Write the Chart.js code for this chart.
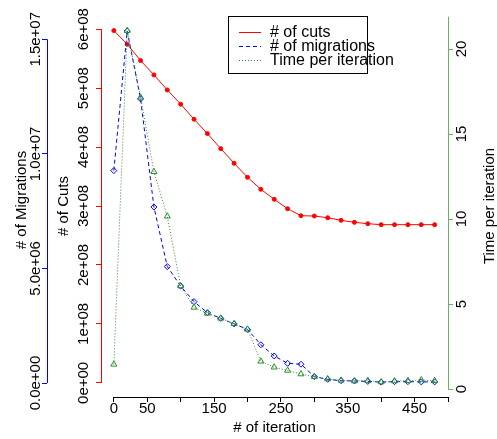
<!DOCTYPE html>
<html>
<head>
<meta charset="utf-8">
<script src="https://cdn.jsdelivr.net/npm/chart.js@4/dist/chart.umd.min.js"></script>
<style>
  html, body { margin: 0; padding: 0; background: #fff; }
</style>
</head>
<body>
<canvas id="chart" width="497" height="439"></canvas>
<script>
const FONT = "'Liberation Sans', Arial, Helvetica, sans-serif";

// data
const iterations = [0, 20, 40, 60, 80, 100, 120, 140, 160, 180, 200, 220, 240, 260, 280, 300, 320, 340, 360, 380, 400, 420, 440, 460, 480];
const cuts = [5.976e8, 5.745e8, 5.467e8, 5.224e8, 4.969e8, 4.727e8, 4.472e8, 4.228e8, 3.973e8, 3.725e8, 3.487e8, 3.283e8, 3.114e8, 2.954e8, 2.835e8, 2.830e8, 2.801e8, 2.757e8, 2.723e8, 2.700e8, 2.683e8, 2.683e8, 2.683e8, 2.683e8, 2.683e8];
const migrations = [9.27e6, 15.36e6, 12.40e6, 7.68e6, 5.08e6, 4.23e6, 3.55e6, 3.07e6, 2.82e6, 2.58e6, 2.34e6, 1.67e6, 1.18e6, 0.86e6, 0.82e6, 0.28e6, 0.16e6, 0.10e6, 0.09e6, 0.07e6, 0.04e6, 0.06e6, 0.06e6, 0.05e6, 0.05e6];
const timePerIter = [1.45, 21.08, 17.16, 12.78, 10.16, 6.06, 4.80, 4.45, 4.16, 3.84, 3.51, 1.63, 1.28, 1.09, 0.88, 0.72, 0.59, 0.51, 0.47, 0.49, 0.41, 0.47, 0.49, 0.53, 0.49];

// ticks
const xTicks = [0, 50, 100, 150, 200, 250, 300, 350, 400, 450, 500];
const xTickLabels = ["0", "50", "", "150", "", "250", "", "350", "", "450", ""];
const cutTicks = [0, 1e8, 2e8, 3e8, 4e8, 5e8, 6e8];
const migTicks = [0, 5e6, 1e7, 1.5e7];
const timeTicks = [0, 5, 10, 15, 20];

const RED = "#ff0000", BLUE = "#0000ff", GREEN = "#2a8f2a", GREEN_AXIS = "#66b366";
const TICK_PX = 15, TITLE_PX = 15, LEGEND_PX = 16;

const pts = (ys) => iterations.map((x, i) => ({ x, y: ys[i] }));

function sci(v, digits) {
  const [m, e] = v.toExponential(digits).split("e");
  const n = parseInt(e, 10);
  return m + "e" + (n < 0 ? "-" : "+") + String(Math.abs(n)).padStart(2, "0");
}

const align = (p) => Math.round(p - 0.5) + 0.5;

function rotText(ctx, txt, x, y, size) {
  ctx.save();
  ctx.translate(x, y);
  ctx.rotate(-Math.PI / 2);
  ctx.font = size + "px " + FONT;
  ctx.fillStyle = "#000";
  ctx.textAlign = "center";
  ctx.textBaseline = "middle";
  ctx.fillText(txt, 0, 0);
  ctx.restore();
}

// R-style axes: line only between end ticks, labels rotated, titles, legend
const rStyle = {
  id: "rStyle",
  afterDraw(chart) {
    const ctx = chart.ctx, s = chart.scales, ca = chart.chartArea;
    const midY = (ca.top + ca.bottom) / 2;

    const vLine = (x, y0, y1, color) => {
      ctx.save();
      ctx.strokeStyle = color; ctx.lineWidth = 1;
      ctx.beginPath(); ctx.moveTo(align(x), y0); ctx.lineTo(align(x), y1); ctx.stroke();
      ctx.restore();
    };
    vLine(s.yM.right, s.yM.getPixelForValue(0), s.yM.getPixelForValue(1.5e7), BLUE);
    vLine(s.yC.right, s.yC.getPixelForValue(0), s.yC.getPixelForValue(6e8), RED);
    vLine(s.yT.left, s.yT.getPixelForValue(0), s.yT.getPixelForValue(21.9), GREEN_AXIS);

    ctx.save();
    ctx.strokeStyle = "#000"; ctx.lineWidth = 1;
    ctx.beginPath();
    ctx.moveTo(s.x.getPixelForValue(0), align(s.x.top));
    ctx.lineTo(s.x.getPixelForValue(500), align(s.x.top));
    ctx.stroke();
    ctx.restore();

    migTicks.forEach(v => rotText(ctx, sci(v, 1), s.yM.right - 11, s.yM.getPixelForValue(v), TICK_PX));
    cutTicks.forEach(v => rotText(ctx, sci(v, 0), s.yC.right - 17, s.yC.getPixelForValue(v), TICK_PX));
    timeTicks.forEach(v => rotText(ctx, String(v), s.yT.left + 14, s.yT.getPixelForValue(v), TICK_PX));

    rotText(ctx, "# of Migrations", 22, midY - 6, TITLE_PX);
    rotText(ctx, "# of Cuts", 64, midY, TITLE_PX);
    rotText(ctx, "Time per iteration", 490, midY, TITLE_PX);

    ctx.save();
    ctx.font = TITLE_PX + "px " + FONT;
    ctx.fillStyle = "#000";
    ctx.textAlign = "center";
    ctx.textBaseline = "middle";
    ctx.fillText("# of iteration", (ca.left + ca.right) / 2, 428);
    ctx.restore();

    // legend
    const lx = 228.5, ly = 16.5, lw = 139, lh = 57;
    ctx.save();
    ctx.fillStyle = "#fff";
    ctx.fillRect(lx, ly, lw, lh);
    ctx.strokeStyle = "#000"; ctx.lineWidth = 1;
    ctx.strokeRect(lx, ly, lw, lh);
    chart.data.datasets.forEach((ds, i) => {
      const y = 32.5 + i * 14;
      ctx.strokeStyle = ds.borderColor;
      ctx.setLineDash(ds.borderDash || []);
      ctx.beginPath(); ctx.moveTo(239, y); ctx.lineTo(261, y); ctx.stroke();
      ctx.setLineDash([]);
      ctx.font = LEGEND_PX + "px " + FONT;
      ctx.fillStyle = "#000";
      ctx.textAlign = "left";
      ctx.textBaseline = "middle";
      ctx.fillText(ds.label, 270, y);
    });
    ctx.restore();
  }
};

const yBase = (ticks, width, color) => ({
  afterBuildTicks: (sc) => { sc.ticks = ticks.map(v => ({ value: v })); },
  afterFit: (sc) => { sc.width = width; },
  border: { display: false },
  grid: { drawOnChartArea: false, tickLength: 5, tickColor: color, color: color },
  ticks: { display: false }
});

new Chart(document.getElementById("chart"), {
  type: "line",
  data: {
    datasets: [
      {
        label: "# of cuts", data: pts(cuts), yAxisID: "yC", order: 3,
        borderColor: RED, borderWidth: 1, pointStyle: "circle", pointRadius: 2,
        pointBackgroundColor: RED, pointBorderColor: RED, tension: 0
      },
      {
        label: "# of migrations", data: pts(migrations), yAxisID: "yM", order: 2,
        borderColor: BLUE, borderWidth: 1, borderDash: [4, 3], pointStyle: "rectRot",
        pointRadius: 3, pointBorderWidth: 1, pointBackgroundColor: "rgba(0,0,0,0)",
        pointBorderColor: BLUE, tension: 0
      },
      {
        label: "Time per iteration", data: pts(timePerIter), yAxisID: "yT", order: 1,
        borderColor: GREEN, borderWidth: 1, borderDash: [1, 2], pointStyle: "triangle",
        pointRadius: 3.5, pointBorderWidth: 1, pointBackgroundColor: "rgba(0,0,0,0)",
        pointBorderColor: GREEN, tension: 0
      }
    ]
  },
  options: {
    responsive: false,
    animation: false,
    devicePixelRatio: 1,
    layout: { padding: { top: 15, left: 0, right: 0, bottom: 0 } },
    plugins: { legend: { display: false }, tooltip: { enabled: false } },
    scales: {
      x: {
        type: "linear", min: -19.2, max: 500,
        afterBuildTicks: (sc) => { sc.ticks = xTicks.map(v => ({ value: v })); },
        afterFit: (sc) => { sc.height = 42; },
        border: { display: false },
        grid: { drawOnChartArea: false, tickLength: 5, color: "#000", tickColor: "#000" },
        ticks: {
          color: "#000", font: { size: TICK_PX, family: FONT }, padding: -2,
          maxRotation: 0, autoSkip: false,
          callback: (v) => xTickLabels[xTicks.indexOf(v)] ?? ""
        }
      },
      yC: Object.assign({ position: "left", weight: 0, min: -0.24e8, max: 6.24e8 }, yBase(cutTicks, 54, RED)),
      yM: Object.assign({ position: "left", weight: 1, min: -0.61e6, max: 16.06e6 }, yBase(migTicks, 47, BLUE)),
      yT: Object.assign({ position: "right", weight: 0, min: -0.47, max: 22.0 }, yBase(timeTicks, 49, GREEN_AXIS))
    }
  },
  plugins: [rStyle]
});
</script>
</body>
</html>
